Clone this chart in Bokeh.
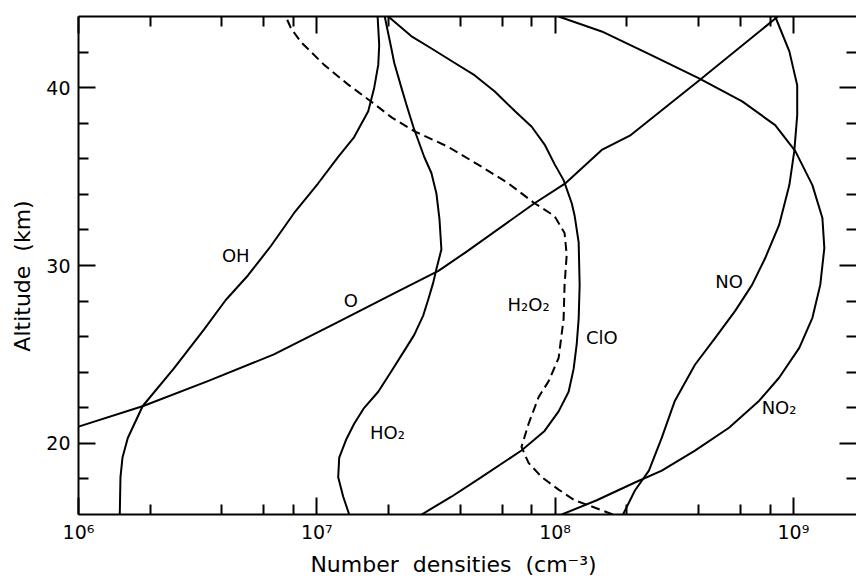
from bokeh.plotting import figure
from bokeh.models import Range1d, FixedTicker, LogAxis, LinearAxis
from bokeh.core.properties import value
from bokeh.embed import file_html
from bokeh.resources import INLINE

FONT = "DejaVu Sans"
NB = "\u00a0"

# ---- data: altitude (km) and number density (cm^-3) ----
oh_alt = [16.0, 18.1, 19.2, 20.3, 22.1, 24.2, 26.4, 28.06, 29.44, 31.11, 32.94, 34.61, 36.11, 37.22, 38.67, 40.0, 41.28, 42.39, 44.0]
oh_n = [1.49e6, 1.50e6, 1.53e6, 1.61e6, 1.86e6, 2.51e6, 3.36e6, 4.15e6, 5.14e6, 6.43e6, 8.02e6, 1.012e7, 1.23e7, 1.435e7, 1.644e7, 1.742e7, 1.811e7, 1.828e7, 1.80e7]

o_alt = [20.94, 22.1, 23.5, 25.0, 26.7, 28.5, 29.7, 30.7, 33.5, 34.6, 36.5, 37.3, 40.4, 44.0]
o_n = [1.0e6, 1.87e6, 3.49e6, 6.61e6, 1.18e7, 2.16e7, 3.24e7, 4.17e7, 8.2e7, 1.10e8, 1.57e8, 2.06e8, 4.02e8, 8.61e8]

ho2_alt = [16.0, 17.0, 18.1, 19.2, 20.2, 21.1, 22.0, 22.9, 24.05, 25.2, 26.1, 27.2, 28.1, 29.05, 29.8, 30.9, 32.6, 34.05, 35.2, 36.1, 37.8, 39.05, 40.0, 41.4, 42.2, 44.0]
ho2_n = [1.368e7, 1.291e7, 1.230e7, 1.242e7, 1.327e7, 1.435e7, 1.581e7, 1.811e7, 2.056e7, 2.328e7, 2.564e7, 2.799e7, 2.938e7, 3.083e7, 3.177e7, 3.334e7, 3.273e7, 3.177e7, 3.027e7, 2.825e7, 2.541e7, 2.377e7, 2.265e7, 2.113e7, 2.056e7, 1.928e7]

h2o2_alt = [16.0, 16.45, 16.8, 17.4, 18.1, 18.9, 19.8, 21.1, 22.6, 23.5, 24.8, 27.0, 28.9, 30.6, 31.83, 32.78, 33.5, 34.61, 35.56, 36.67, 37.56, 38.33, 39.22, 40.17, 41.28, 42.56, 43.33, 44.0]
h2o2_n = [1.746e8, 1.426e8, 1.208e8, 1.035e8, 8.79e7, 7.74e7, 7.23e7, 7.74e7, 8.53e7, 9.40e7, 1.035e8, 1.086e8, 1.096e8, 1.119e8, 1.096e8, 9.95e7, 8.20e7, 6.38e7, 4.91e7, 3.56e7, 2.56e7, 2.06e7, 1.69e7, 1.355e7, 1.074e7, 8.59e6, 7.80e6, 7.41e6]

clo_alt = [16.0, 17.0, 18.1, 19.6, 20.7, 21.8, 22.9, 24.2, 25.6, 27.0, 28.9, 31.3, 32.8, 33.5, 34.8, 35.7, 36.8, 37.8, 38.7, 39.8, 40.7, 41.4, 42.2, 42.9, 44.0]
clo_n = [2.754e7, 3.673e7, 4.909e7, 7.228e7, 9.036e7, 1.035e8, 1.140e8, 1.197e8, 1.233e8, 1.256e8, 1.268e8, 1.256e8, 1.208e8, 1.175e8, 1.086e8, 9.95e7, 9.04e7, 7.98e7, 6.76e7, 5.57e7, 4.59e7, 3.78e7, 3.03e7, 2.49e7, 1.995e7]

no_alt = [16.0, 17.35, 18.47, 20.32, 22.4, 24.42, 25.93, 27.45, 28.91, 30.42, 32.27, 34.52, 36.43, 38.45, 40.13, 42.04, 44.0]
no_n = [1.928e8, 2.163e8, 2.477e8, 2.805e8, 3.184e8, 3.864e8, 4.70e8, 5.70e8, 6.71e8, 7.62e8, 8.71e8, 9.62e8, 1.009e9, 1.038e9, 1.038e9, 9.62e8, 8.39e8]

no2_alt = [16.0, 16.8, 17.8, 18.47, 19.59, 20.88, 22.4, 23.69, 25.37, 27.06, 28.91, 30.98, 32.67, 34.52, 36.43, 37.89, 39.23, 40.52, 41.81, 43.16, 44.0]
no2_n = [1.067e8, 1.496e8, 2.163e8, 2.805e8, 3.864e8, 5.37e8, 7.19e8, 8.71e8, 1.059e9, 1.202e9, 1.297e9, 1.349e9, 1.324e9, 1.202e9, 1.019e9, 8.39e8, 6.10e8, 4.02e8, 2.547e8, 1.570e8, 1.035e8]

label_text = ["OH", "O", "HO\u2082", "H\u2082O\u2082", "ClO", "NO", "NO\u2082"]
label_n = [4.57e6, 1.39e7, 1.98e7, 7.74e7, 1.57e8, 5.37e8, 8.71e8]
label_alt = [30.56, 28.06, 20.6, 27.8, 25.94, 29.1, 22.0]

x_major = [1e6, 1e7, 1e8, 1e9]
x_major_labels = ["10\u2076", "10\u2077", "10\u2078", "10\u2079"]
x_minor = [m * d for d in (1e6, 1e7, 1e8) for m in (2, 4, 6, 8)]
y_major = [20, 30, 40]
y_minor = [18, 22, 24, 26, 28, 32, 34, 36, 38, 42]

p = figure(width=856, height=583, x_axis_type="log",
           x_range=Range1d(1e6, 10 ** 9.265), y_range=Range1d(16, 44),
           output_backend="svg", toolbar_location=None,
           min_border_left=78, min_border_right=0, min_border_top=16, min_border_bottom=69)
p.outline_line_color = None
p.background_fill_color = "white"
p.border_fill_color = "white"
p.grid.visible = False

xt = FixedTicker(ticks=x_major, minor_ticks=x_minor)
yt = FixedTicker(ticks=y_major, minor_ticks=y_minor)

def style(ax):
    ax.axis_line_width = 2
    ax.axis_line_color = "black"
    ax.major_tick_line_width = 2
    ax.minor_tick_line_width = 2
    ax.major_tick_in = 17
    ax.major_tick_out = 0
    ax.minor_tick_in = 10
    ax.minor_tick_out = 0
    ax.major_label_text_font = FONT
    ax.major_label_text_font_size = "19px"
    ax.major_label_text_color = "black"
    ax.axis_label_text_font = FONT
    ax.axis_label_text_font_size = "22px"
    ax.axis_label_text_font_style = "normal"
    ax.axis_label_text_color = "black"

xa = p.xaxis[0]
xa.ticker = xt
xa.major_label_overrides = {v: s for v, s in zip(x_major, x_major_labels)}
xa.axis_label = "Number" + NB + " densities" + NB + " (cm\u207b\u00b3)" + NB * 4
style(xa)
xa.major_label_standoff = 6
xa.axis_label_standoff = 6

ya = p.yaxis[0]
ya.ticker = yt
ya.axis_label = "Altitude" + NB + " (km)" + NB * 3
style(ya)
ya.major_label_standoff = 8
ya.axis_label_standoff = 8

top = LogAxis(ticker=FixedTicker(ticks=x_major, minor_ticks=x_minor))
style(top)
top.major_label_text_font_size = "1px"
top.major_label_text_color = None
top.major_label_standoff = 0
p.add_layout(top, "above")

right = LinearAxis(ticker=FixedTicker(ticks=y_major, minor_ticks=y_minor))
style(right)
right.axis_line_color = None
right.major_label_text_font_size = "1px"
right.major_label_text_color = None
right.major_label_standoff = 0
p.add_layout(right, "right")

for n, a in [(oh_n, oh_alt), (o_n, o_alt), (ho2_n, ho2_alt), (clo_n, clo_alt), (no_n, no_alt), (no2_n, no2_alt)]:
    p.line(n, a, line_color="black", line_width=2, line_join="round")
p.line(h2o2_n, h2o2_alt, line_color="black", line_width=2, line_dash="9 5", line_join="round")

p.text(label_n, label_alt, text=label_text, text_font=value(FONT), text_font_size="18px",
       text_align="center", text_baseline="middle", text_color="black")

open("out.html", "w").write(file_html(p, INLINE))
